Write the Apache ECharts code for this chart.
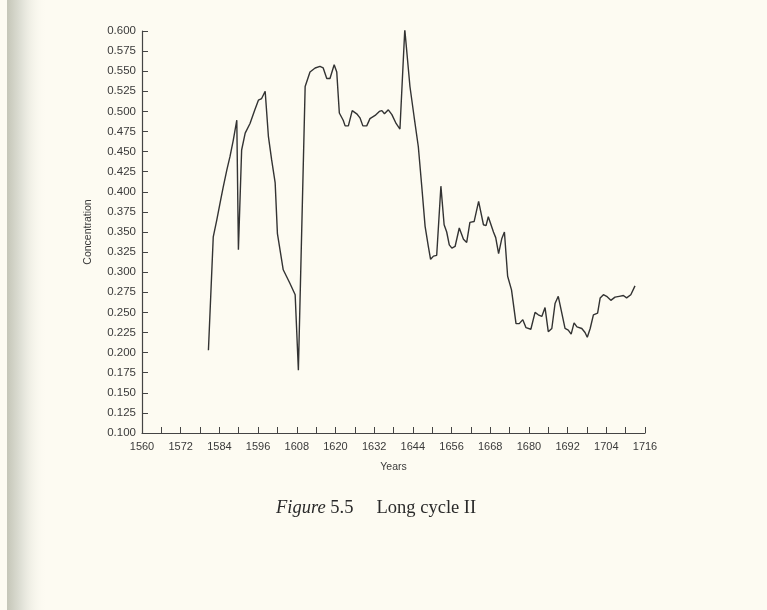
<!DOCTYPE html>
<html>
<head>
<meta charset="utf-8">
<script src="https://cdn.jsdelivr.net/npm/echarts@6/dist/echarts.min.js"></script>
<style>
  html, body { margin: 0; padding: 0; background: #fdfbf2; }
  #main { width: 767px; height: 610px; }
</style>
</head>
<body>
<div id="main"></div>
<script>
// values (year, concentration)
var years = [1580.6, 1582.1, 1583.2, 1584.4, 1585.2, 1586.3, 1587.3, 1588.3, 1589.4, 1589.9,
  1590.9, 1592, 1593.5, 1595, 1596.1, 1597.1, 1598.2, 1599.2, 1600.2, 1601.3,
  1602, 1603.8, 1605.9, 1607.5, 1608.5, 1610.6, 1612.1, 1613.7, 1615.2, 1616.2,
  1617.3, 1618.3, 1619.6, 1620.4, 1621.2, 1622.4, 1623, 1624, 1625.2, 1626.6,
  1627.6, 1628.5, 1629.7, 1630.7, 1632.3, 1633.6, 1634.4, 1635.2, 1636.4, 1637.5,
  1638.8, 1640, 1641.5, 1643.1, 1644.4, 1645.7, 1646.8, 1647.8, 1648.8, 1649.5,
  1650.4, 1651.4, 1652.7, 1653.7, 1654.5, 1655.3, 1656.1, 1657.1, 1658.4, 1659.7,
  1660.7, 1661.7, 1663, 1664.4, 1665.9, 1666.7, 1667.4, 1669, 1669.7, 1670.6,
  1671.6, 1672.4, 1673.4, 1674.6, 1676, 1677, 1678.1, 1679.1, 1680.6, 1681.9,
  1682.9, 1684, 1685, 1686, 1687.1, 1688.1, 1689.1, 1690.2, 1691.2, 1692.2,
  1693.1, 1694, 1694.9, 1696.4, 1697.4, 1698.1, 1699, 1700, 1701.3, 1702.1,
  1703.1, 1704.1, 1705.4, 1706.7, 1708, 1709.3, 1710.3, 1711.6, 1712.9];
var concentration = [0.203, 0.344, 0.365, 0.390, 0.406, 0.427, 0.444, 0.464, 0.489, 0.328,
  0.452, 0.473, 0.485, 0.502, 0.514, 0.516, 0.525, 0.469, 0.440, 0.411,
  0.348, 0.303, 0.286, 0.272, 0.178, 0.531, 0.549, 0.554, 0.556, 0.554,
  0.541, 0.541, 0.558, 0.549, 0.498, 0.489, 0.482, 0.482, 0.501, 0.497,
  0.492, 0.482, 0.482, 0.491, 0.495, 0.500, 0.501, 0.497, 0.502, 0.496,
  0.485, 0.478, 0.602, 0.531, 0.493, 0.456, 0.405, 0.357, 0.332, 0.316,
  0.320, 0.321, 0.407, 0.359, 0.350, 0.334, 0.330, 0.332, 0.355, 0.341,
  0.337, 0.362, 0.363, 0.388, 0.359, 0.358, 0.369, 0.350, 0.343, 0.323,
  0.342, 0.350, 0.295, 0.278, 0.236, 0.236, 0.241, 0.231, 0.229, 0.250,
  0.247, 0.245, 0.256, 0.226, 0.230, 0.261, 0.270, 0.249, 0.230, 0.228,
  0.223, 0.237, 0.232, 0.230, 0.225, 0.219, 0.230, 0.247, 0.249, 0.268,
  0.272, 0.270, 0.265, 0.269, 0.270, 0.271, 0.268, 0.272, 0.283];

var chart = echarts.init(document.getElementById('main'));

var seriesData = [];
for (var i = 0; i < years.length; i++) {
    seriesData.push([years[i], concentration[i]]);
}

var option = {
    backgroundColor: '#fdfbf2',
    animation: false,
    textStyle: { fontFamily: 'Liberation Sans, Arial, sans-serif' },
    graphic: [
        {
            type: 'rect',
            left: 7, top: 0,
            shape: { width: 40, height: 610 },
            style: {
                fill: new echarts.graphic.LinearGradient(0, 0, 1, 0, [
                    { offset: 0, color: '#c5c6b8' },
                    { offset: 0.35, color: '#dfe0d6' },
                    { offset: 1, color: 'rgba(253,251,242,0)' }
                ])
            },
            silent: true
        }
    ],
    title: {
        text: '{it|Figure} 5.5     Long cycle II',
        left: 271,
        top: 494,
        textStyle: {
            fontFamily: 'Liberation Serif, Times New Roman, serif',
            fontWeight: 'normal',
            fontSize: 18.5,
            color: '#2a2a2a',
            rich: {
                it: {
                    fontFamily: 'Liberation Serif, Times New Roman, serif',
                    fontStyle: 'italic',
                    fontSize: 18.5,
                    color: '#2a2a2a'
                }
            }
        }
    },
    grid: { left: 142, right: 122, top: 31, bottom: 177 },
    xAxis: {
        type: 'value',
        min: 1560,
        max: 1716,
        interval: 6,
        name: 'Years',
        nameLocation: 'middle',
        nameGap: 29,
        nameTextStyle: { fontSize: 10.5, color: '#3a3a3a' },
        splitLine: { show: false },
        axisLine: { lineStyle: { color: '#444', width: 1.2 } },
        axisTick: { inside: true, length: 6, lineStyle: { color: '#444' } },
        axisLabel: {
            fontSize: 11,
            color: '#3a3a3a',
            margin: 8,
            formatter: function (v) {
                return (v - 1560) % 12 === 0 ? String(v) : '';
            }
        }
    },
    yAxis: {
        type: 'value',
        min: 0.1,
        max: 0.6,
        interval: 0.025,
        name: 'Concentration',
        nameLocation: 'middle',
        nameGap: 48,
        nameRotate: 90,
        nameTextStyle: { fontSize: 10.5, color: '#3a3a3a' },
        splitLine: { show: false },
        axisLine: { show: true, lineStyle: { color: '#444', width: 1.2 } },
        axisTick: { show: true, inside: true, length: 6, lineStyle: { color: '#444' } },
        axisLabel: {
            fontSize: 11.5,
            color: '#3a3a3a',
            margin: 6,
            formatter: function (v) { return v.toFixed(3); }
        }
    },
    series: [
        {
            type: 'line',
            data: seriesData,
            showSymbol: false,
            lineStyle: { color: '#333', width: 1.4 }
        }
    ]
};

chart.setOption(option);
</script>
</body>
</html>
